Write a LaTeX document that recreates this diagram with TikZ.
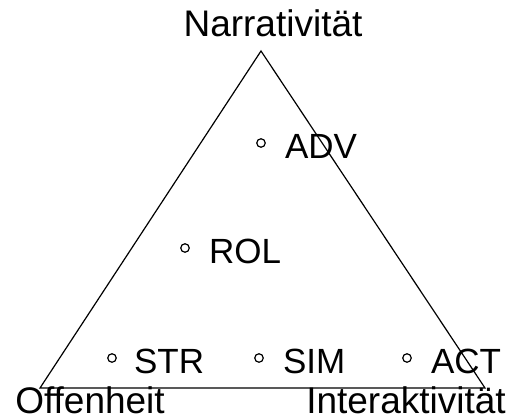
\documentclass[tikz,border=0pt]{standalone}
\usepackage{fontspec}
\setmainfont{Liberation Sans}
\usetikzlibrary{positioning}

\begin{document}
\begin{tikzpicture}[
    x=1pt, y=-1pt,
    every node/.style={font=\fontsize{35}{40}\selectfont},
    axis/.style={inner sep=0pt, anchor=base, font=\fontsize{37}{42}\selectfont},
    genre/.style={
        circle, draw, line width=1.2pt, minimum size=8.5pt, inner sep=0pt
    },
    genrelbl/.style={inner sep=0pt, yshift=-3pt}
]
\useasboundingbox (0,0) rectangle (506,420);

% Ecken des Dreiecks
\coordinate (N) at (261,51);
\coordinate (O) at (40,388);
\coordinate (I) at (485,388);

\draw[line width=1.2pt] (N) -- (O) -- (I) -- cycle;

% Achsenbeschriftungen
\node[axis] (narr) at (273,37) {Narrativität};
\node[axis] (offen) at (90,413) {Offenheit};
\node[axis] (inter) at (406,413) {Interaktivität};

% Genres
\node[genre] (adv) at (261,143) {};
\node[genre] (rol) at (185,248) {};
\node[genre] (str) at (112,358) {};
\node[genre] (sim) at (259,358) {};
\node[genre] (act) at (407,358) {};

\node[genrelbl, right=19pt of adv] (advlbl) {ADV};
\node[genrelbl, right=19pt of rol] (rollbl) {ROL};
\node[genrelbl, right=17pt of str] (strlbl) {STR};
\node[genrelbl, right=19pt of sim] (simlbl) {SIM};
\node[genrelbl, right=19pt of act] (actlbl) {ACT};

\end{tikzpicture}
\end{document}
